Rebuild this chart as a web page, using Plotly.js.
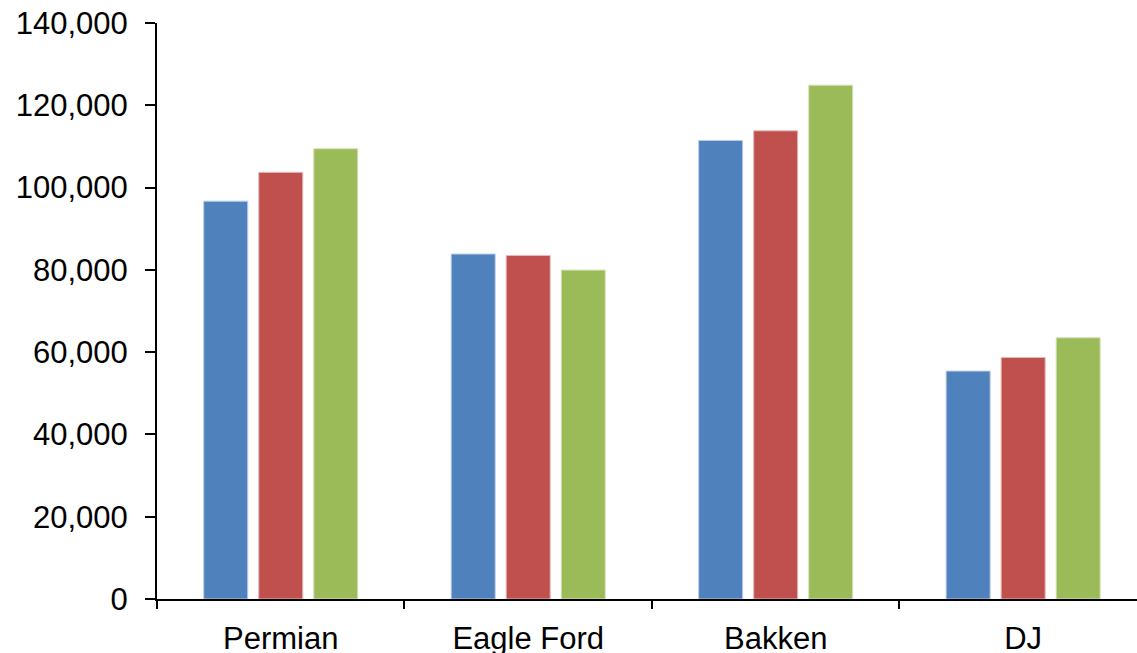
<!DOCTYPE html>
<html>
<head>
<meta charset="utf-8">
<script src="https://cdn.plot.ly/plotly-3.0.1.min.js"></script>
<style>
  html, body { margin: 0; padding: 0; background: #ffffff; }
  #chart { width: 1137px; height: 653px; }
</style>
</head>
<body>
<div id="chart"></div>
<script>
// Basins on the category axis
var basins = ["Permian", "Eagle Ford", "Bakken", "DJ"];

// Three series per basin
var seriesA = [96700, 83850, 111450, 55400];
var seriesB = [103700, 83500, 113800, 58700];
var seriesC = [109450, 79950, 124900, 63500];

var seriesColors = ["#4F81BD", "#C0504D", "#9BBB59"];
var edgeColors = ["#B9CDE5", "#E6B9B8", "#D7E4BD"];

var yTickVals = [0, 20000, 40000, 60000, 80000, 100000, 120000, 140000];

function barTrace(values, i) {
  return {
    type: "bar",
    x: basins,
    y: values,
    marker: { color: seriesColors[i], line: { color: edgeColors[i], width: 1 } },
    hoverinfo: "x+y"
  };
}

var data = [barTrace(seriesA, 0), barTrace(seriesB, 1), barTrace(seriesC, 2)];

var font = { family: "Liberation Sans, Arial, sans-serif", size: 31, color: "#000000" };

var layout = {
  width: 1137,
  height: 653,
  margin: { l: 157, r: 0, t: 23, b: 54, pad: 0 },
  paper_bgcolor: "#ffffff",
  plot_bgcolor: "#ffffff",
  showlegend: false,
  barmode: "group",
  bargap: 0.333,
  bargroupgap: 0.2,
  font: font,
  xaxis: {
    type: "category",
    range: [-0.5, 3.46],
    showline: true,
    linecolor: "#000000",
    linewidth: 2,
    ticks: "outside",
    tickson: "boundaries",
    ticklen: 8,
    tickwidth: 2,
    tickcolor: "#000000",
    showgrid: false,
    zeroline: false,
    tickfont: font,
    ticklabelstandoff: 11
  },
  yaxis: {
    range: [0, 140000],
    tickvals: yTickVals,
    tickformat: ",d",
    showline: true,
    linecolor: "#000000",
    linewidth: 2,
    ticks: "outside",
    ticklen: 10,
    tickwidth: 2,
    tickcolor: "#000000",
    showgrid: false,
    zeroline: false,
    tickfont: font,
    ticklabelstandoff: 11
  }
};

Plotly.newPlot("chart", data, layout, { displayModeBar: false, staticPlot: true });
</script>
</body>
</html>
